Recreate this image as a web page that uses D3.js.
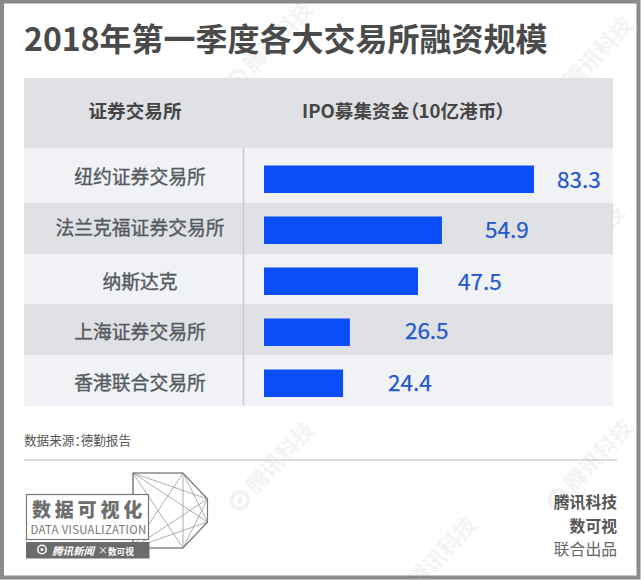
<!DOCTYPE html>
<html>
<head>
<meta charset="utf-8">
<script src="https://cdnjs.cloudflare.com/ajax/libs/d3/7.8.5/d3.min.js"></script>
<style>
html, body { margin: 0; padding: 0; background: #fff; }
svg { display: block; }
text { font-family: "Noto Sans CJK SC", "Noto Sans", sans-serif; font-feature-settings: "palt"; }
</style>
</head>
<body>
<div id="chart"></div>
<script>
const titleText = "2018年第一季度各大交易所融资规模";
const headerLeft = "证券交易所";
const headerRight = "IPO募集资金（10亿港币）";
const exchanges = ["纽约证券交易所", "法兰克福证券交易所", "纳斯达克", "上海证券交易所", "香港联合交易所"];
const amounts = [83.3, 54.9, 47.5, 26.5, 24.4];
const sourceText = "数据来源：德勤报告";
const creditLines = ["腾讯科技", "数可视", "联合出品"];

// layout of the table, the original is not regular
const labelGaps = [23, 43, 40, 55, 45];
const rowTops = [148, 203, 254, 304, 355, 406];
const rowLabelYs = [177.5, 228.5, 282, 332, 383];
const valueYs = [179.5, 230, 281.5, 331, 383];
// watermark anchors, they sit under the table
const marks = [[254, 74], [574, 90], [566, 278], [256, 495], [574, 493], [418, 590]];

const width = 641, height = 580;
const svg = d3.select("#chart").append("svg").attr("width", width).attr("height", height);

// watermarks
const wm = svg.selectAll("g.wm").data(marks).enter().append("g").attr("class", "wm")
    .attr("transform", d => `translate(${d[0]},${d[1]}) rotate(-47)`)
    .attr("opacity", 0.075);
wm.append("circle").attr("cx", -15).attr("cy", -8).attr("r", 8.5).attr("fill", "none").attr("stroke", "#666").attr("stroke-width", 4);
wm.append("circle").attr("cx", -15).attr("cy", -8).attr("r", 3).attr("fill", "#666");
wm.append("text").attr("font-size", 22).attr("font-weight", 700).attr("fill", "#666").text("腾讯科技");

// frame
svg.append("rect").attr("x", 2).attr("y", 1.5).attr("width", 636.5).attr("height", 576)
    .attr("fill", "none").attr("stroke", "#8a8a8a").attr("stroke-width", 4);

// title
svg.append("text").attr("x", 24).attr("y", 51).attr("font-size", 32).attr("font-weight", 700)
    .attr("fill", "#4a4a4a").text(titleText);

// table
svg.append("rect").attr("x", 24).attr("y", 78).attr("width", 589).attr("height", 70).attr("fill", "#dfe1e4");

const xScale = d3.scaleLinear().domain([0, 83.3]).range([264, 534]);

const rows = svg.selectAll("g.row").data(exchanges).enter().append("g").attr("class", "row");
rows.append("rect")
    .attr("x", 24).attr("width", 589)
    .attr("y", (d, i) => rowTops[i])
    .attr("height", (d, i) => rowTops[i + 1] - rowTops[i])
    .attr("fill", (d, i) => i % 2 ? "#dfe1e4" : "#f0f2f5");
rows.append("text")
    .attr("x", 140).attr("y", (d, i) => rowLabelYs[i])
    .attr("dy", "0.36em").attr("text-anchor", "middle")
    .attr("font-size", 18.8).attr("fill", "#555a5f")
    .attr("stroke", "#555a5f").attr("stroke-width", 0.35)
    .text(d => d);

// divider
svg.append("line").attr("x1", 243.5).attr("x2", 243.5).attr("y1", 148).attr("y2", 406)
    .attr("stroke", "#c4c8cc").attr("stroke-width", 1.4);

// header text
svg.append("text").attr("x", 135).attr("y", 111).attr("dy", "0.36em").attr("text-anchor", "middle")
    .attr("font-size", 18.6).attr("font-weight", 700).attr("fill", "#454545").text(headerLeft);
svg.append("text").attr("x", 302).attr("y", 111).attr("dy", "0.36em")
    .attr("font-size", 18.6).attr("font-weight", 700).attr("fill", "#454545").text(headerRight);

// bars
svg.selectAll("rect.bar").data(amounts).enter().append("rect").attr("class", "bar")
    .attr("x", xScale(0))
    .attr("y", (d, i) => 165.5 + i * 51)
    .attr("width", d => xScale(d) - xScale(0))
    .attr("height", 27.5)
    .attr("fill", "#0b4ef8");

svg.selectAll("text.value").data(amounts).enter().append("text").attr("class", "value")
    .attr("x", (d, i) => xScale(d) + labelGaps[i])
    .attr("y", (d, i) => valueYs[i])
    .attr("dy", "0.36em")
    .attr("font-size", 22.5).attr("fill", "#2458d0")
    .attr("stroke", "#2458d0").attr("stroke-width", 0.25)
    .text(d => d);

// source and rule
svg.append("text").attr("x", 24).attr("y", 445).attr("font-size", 12.6).attr("fill", "#555").text(sourceText);
svg.append("line").attr("x1", 24).attr("x2", 617).attr("y1", 460).attr("y2", 460)
    .attr("stroke", "#bbb").attr("stroke-width", 1.2);

// logo, network shape behind the box
const hull = [[133, 473], [183, 473], [207.5, 499], [207.5, 522], [183, 548], [133, 548]];
const logo = svg.append("g");
d3.range(hull.length).forEach(i => d3.range(i + 1, hull.length).forEach(j => {
    logo.append("line").attr("x1", hull[i][0]).attr("y1", hull[i][1]).attr("x2", hull[j][0]).attr("y2", hull[j][1])
        .attr("stroke", "#999").attr("stroke-width", 0.8);
}));
logo.append("polygon").attr("points", hull.join(" ")).attr("fill", "none").attr("stroke", "#777").attr("stroke-width", 1.2);
logo.append("rect").attr("x", 26.5).attr("y", 494.5).attr("width", 122).attr("height", 45)
    .attr("fill", "#fff").attr("stroke", "#777").attr("stroke-width", 1.2);
logo.append("text").attr("x", 89).attr("y", 517).attr("text-anchor", "middle").attr("font-size", 19)
    .attr("font-weight", 900).attr("letter-spacing", 3.8).attr("fill", "#6e6e6e").text("数据可视化");
logo.append("text").attr("x", 88.5).attr("y", 533.5).attr("text-anchor", "middle").attr("font-size", 11.4)
    .attr("letter-spacing", 0.3).attr("fill", "#777").text("DATA VISUALIZATION");
logo.append("rect").attr("x", 26).attr("y", 542).attr("width", 123.5).attr("height", 16.5).attr("fill", "#6b6b6b");
logo.append("circle").attr("cx", 42).attr("cy", 549.5).attr("r", 4.2).attr("fill", "none").attr("stroke", "#fff").attr("stroke-width", 1.5);
logo.append("circle").attr("cx", 42).attr("cy", 549.5).attr("r", 1.5).attr("fill", "#fff");
logo.append("text").attr("x", 52).attr("y", 554.5).attr("font-size", 10.5).attr("font-style", "italic").attr("font-weight", 700)
    .attr("fill", "#fff").text("腾讯新闻");
logo.append("text").attr("x", 98).attr("y", 554).attr("font-size", 10).attr("fill", "#fff").text("×");
logo.append("text").attr("x", 108).attr("y", 554.5).attr("font-size", 8.6).attr("font-weight", 700)
    .attr("fill", "#fff").text("数可视");

// credits
svg.selectAll("text.credit").data(creditLines).enter().append("text").attr("class", "credit")
    .attr("x", 617).attr("y", (d, i) => 508 + i * 23.5)
    .attr("text-anchor", "end").attr("font-size", 15.8)
    .attr("font-weight", (d, i) => i < 2 ? 700 : 400)
    .attr("fill", (d, i) => i < 2 ? "#555" : "#666").text(d => d);
</script>
</body>
</html>
